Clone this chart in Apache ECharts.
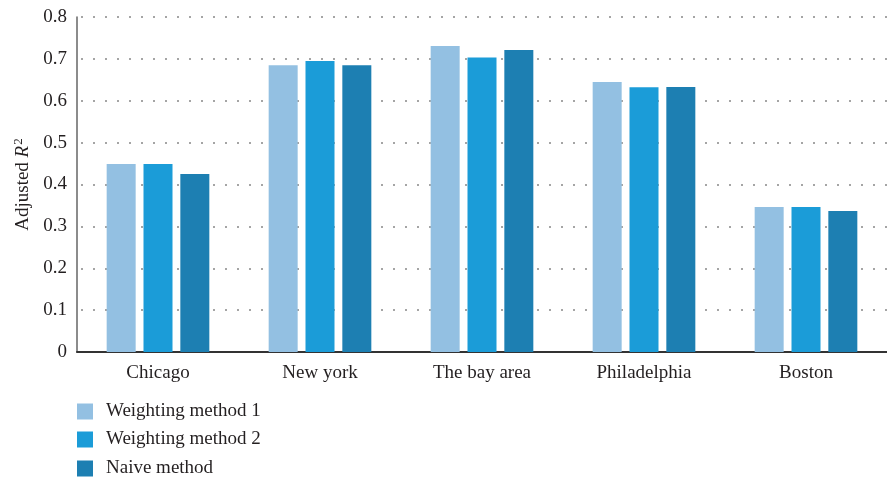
<!DOCTYPE html>
<html><head><meta charset="utf-8">
<style>html,body{margin:0;padding:0;background:#fff}#c{width:887px;height:483px}</style>
<script src="https://cdn.jsdelivr.net/npm/echarts@6/dist/echarts.min.js"></script>
</head><body><div id="c"></div>
<script>
const categories = ['Chicago', 'New york', 'The bay area', 'Philadelphia', 'Boston'];
const weighting1 = [0.449, 0.685, 0.731, 0.645, 0.346];
const weighting2 = [0.449, 0.695, 0.703, 0.632, 0.346];
const naive = [0.425, 0.685, 0.721, 0.633, 0.337];
const yTicks = [0, 0.1, 0.2, 0.3, 0.4, 0.5, 0.6, 0.7, 0.8];
const seriesNames = ['Weighting method 1', 'Weighting method 2', 'Naive method'];
const colors = ['#93c0e2', '#1b9cd8', '#1d7fb2'];

const font = '"Liberation Serif", "DejaVu Serif", serif';
const legendTops = [402, 430, 459];
const chart = echarts.init(document.getElementById('c'));
chart.setOption({
  animation: false,
  textStyle: { fontFamily: font },
  grid: { left: 77, right: 0, top: 17, bottom: 131 },
  legend: seriesNames.map((n, i) => ({
    orient: 'vertical', left: 77, top: legendTops[i], padding: 0,
    itemWidth: 16, itemHeight: 16,
    icon: 'rect',
    textStyle: { fontFamily: font, fontSize: 19, color: '#231f20', padding: [0, 0, 0, 8] },
    data: [n]
  })),
  xAxis: {
    type: 'category', data: categories,
    axisLine: { lineStyle: { color: '#333', width: 2 } },
    axisTick: { show: false },
    axisLabel: { fontFamily: font, fontSize: 19, color: '#231f20', margin: 12 }
  },
  yAxis: {
    type: 'value', min: yTicks[0], max: yTicks[yTicks.length - 1], interval: 0.1,
    name: '{a|Adjusted }{i|R}{s|2}', nameLocation: 'middle', nameGap: 43, nameRotate: 90,
    nameTextStyle: {
      rich: {
        a: { fontFamily: font, fontSize: 19, color: '#231f20' },
        i: { fontFamily: font, fontSize: 19, fontStyle: 'italic', color: '#231f20' },
        s: { fontFamily: font, fontSize: 13, color: '#231f20', verticalAlign: 'top', padding: [0, 0, 8, 1] }
      }
    },
    axisLine: { show: true, lineStyle: { color: '#666', width: 1.5 } },
    axisTick: { show: false },
    axisLabel: { fontFamily: font, fontSize: 19, color: '#231f20', margin: 10,
      formatter: v => (Math.round(v * 10) / 10).toString() },
    splitLine: { lineStyle: { color: '#888', width: 1.5, type: [2, 10], dashOffset: -4 } }
  },
  series: [weighting1, weighting2, naive].map((d, i) => ({
    name: seriesNames[i], type: 'bar', data: d,
    barWidth: 29, barGap: '27%',
    itemStyle: { color: colors[i] }
  }))
});
</script></body></html>
